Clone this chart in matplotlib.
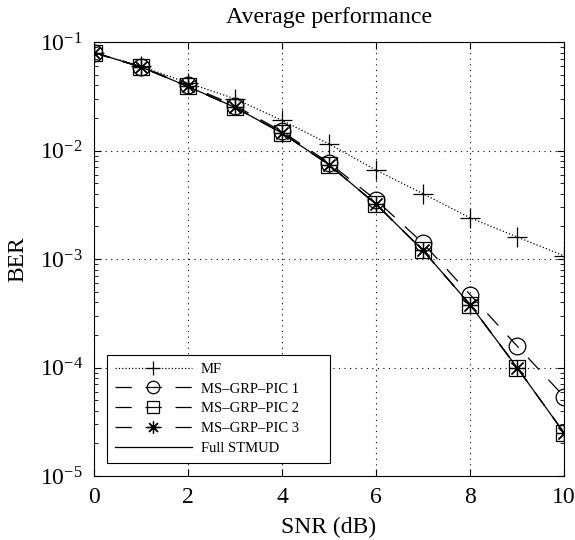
import numpy as np
import matplotlib
matplotlib.use("Agg")
import matplotlib.pyplot as plt
from matplotlib.ticker import LogLocator, FixedLocator

plt.rcParams['font.family'] = ['Liberation Serif', 'DejaVu Serif']
plt.rcParams['mathtext.fontset'] = 'stix'

# BER vs SNR for each receiver
snr = [0, 1, 2, 3, 4, 5, 6, 7, 8, 9, 10]
ber_mf = [0.080, 0.060, 0.042, 0.030, 0.019, 0.0115, 0.0066, 0.0040, 0.0024, 0.0016, 0.00107]
ber_pic1 = [0.080, 0.059, 0.040, 0.026, 0.015, 0.0077, 0.0035, 0.0014, 0.00047, 0.000158, 0.000054]
ber_pic2 = [0.080, 0.059, 0.039, 0.025, 0.0145, 0.0074, 0.0032, 0.0012, 0.00038, 0.0001, 0.000025]
ber_pic3 = [0.080, 0.059, 0.039, 0.025, 0.0145, 0.0074, 0.0032, 0.0012, 0.00038, 0.0001, 0.000025]
ber_full = [0.080, 0.059, 0.039, 0.025, 0.0145, 0.0074, 0.0032, 0.0012, 0.00038, 0.0001, 0.000025]

fig = plt.figure(figsize=(5.75, 5.4), dpi=100)
ax = fig.add_axes([0.1635, 0.1185, 0.8175, 0.8035])

ms = 12
dash = (0, (13, 11))
ax.semilogy(snr, ber_mf, color='k', ls=':', lw=0.9, marker='+', ms=14, mew=0.9,
            label='MF')
ax.semilogy(snr, ber_pic1, color='k', ls=dash, lw=0.9, marker='o', ms=ms, mew=0.9,
            mfc='none', label='MS\u2013GRP\u2013PIC 1')
ax.semilogy(snr, ber_pic2, color='k', ls=dash, lw=0.9, marker='s', ms=11, mew=0.9,
            mfc='none', label='MS\u2013GRP\u2013PIC 2')
ax.semilogy(snr, ber_pic3, color='k', ls=dash, lw=0.9, marker=(8, 2, 0), ms=ms, mew=0.9,
            mfc='none', label='MS\u2013GRP\u2013PIC 3')
ax.semilogy(snr, ber_full, color='k', ls='-', lw=0.9, label='Full STMUD')

ax.set_xlim(0, 10)
ax.set_ylim(1e-5, 1e-1)
ax.set_xticks([0, 2, 4, 6, 8, 10])
ax.yaxis.set_major_locator(FixedLocator([1e-5, 1e-4, 1e-3, 1e-2, 1e-1]))
ax.yaxis.set_minor_locator(LogLocator(base=10, subs=np.arange(2, 10), numticks=20))
ax.yaxis.set_minor_formatter(plt.NullFormatter())

ax.grid(True, which='major', ls=(0, (1, 4)), color='k', lw=0.8)
ax.tick_params(which='both', direction='in', top=True, right=True, labelsize=17)
ax.tick_params(which='major', length=5)
ax.tick_params(which='minor', length=3)
ax.tick_params(axis='y', pad=8)
ax.tick_params(axis='x', pad=8)
for s in ax.spines.values():
    s.set_linewidth(0.8)

ax.set_xlabel('SNR (dB)', fontsize=17, labelpad=6)
ax.set_ylabel('BER', fontsize=17, labelpad=8)
ax.set_title('Average performance', fontsize=17.2, pad=14)

# legend box spans a fixed width in the lower-left corner
leg = ax.legend(loc='lower left', bbox_to_anchor=(13 / 470, 13 / 434, 223 / 470, 0.2),
                mode='expand', fontsize=10.5, fancybox=False, edgecolor='k',
                framealpha=1, handlelength=5.3, labelspacing=0.46, borderpad=0.53,
                handletextpad=0.6, borderaxespad=0.0, markerscale=0.75)
leg.get_frame().set_linewidth(0.8)

fig.savefig('out.png', dpi=100)
